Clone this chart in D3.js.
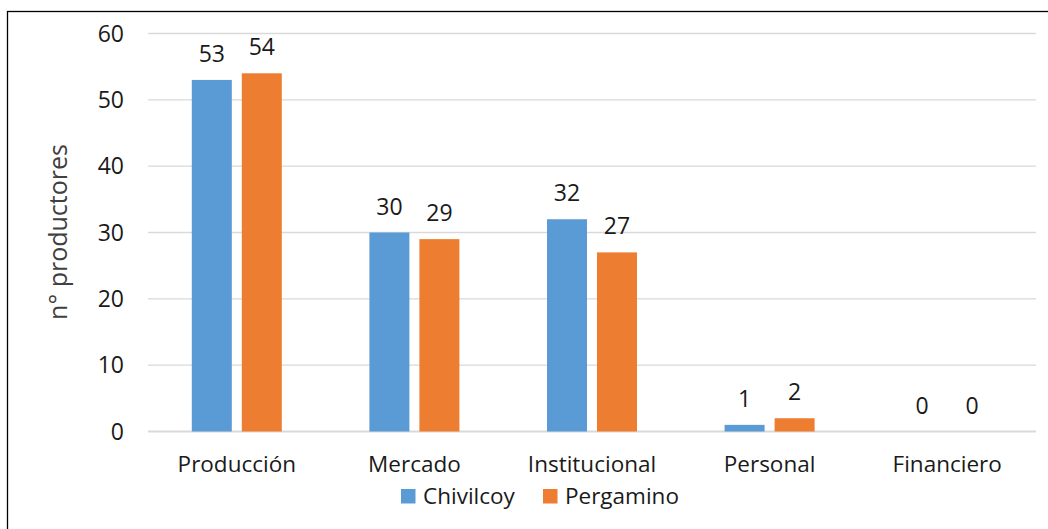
<!DOCTYPE html>
<html>
<head>
<meta charset="utf-8">
<script src="https://cdn.jsdelivr.net/npm/d3@7"></script>
<style>
  body { margin: 0; background: #fff; }
  svg { display: block; font-family: "Open Sans", sans-serif; }
</style>
</head>
<body>
<svg width="1048" height="529"></svg>
<script>
var categories = ["Producción", "Mercado", "Institucional", "Personal", "Financiero"];
var series = ["Chivilcoy", "Pergamino"];
var chivilcoy = [53, 30, 32, 1, 0];
var pergamino = [54, 29, 27, 2, 0];
var yTicks = [0, 10, 20, 30, 40, 50, 60];
var colors = ["#5B9BD5", "#ED7D31"];

var values = [chivilcoy, pergamino];
var svg = d3.select("svg");

// frame
svg.append("rect")
    .attr("x", 7.5).attr("y", 11.5)
    .attr("width", 1100).attr("height", 600)
    .attr("fill", "none")
    .attr("stroke", "#000")
    .attr("stroke-width", 1.3);

var x0 = d3.scaleBand().domain(categories).range([148, 1036]);
var x1 = d3.scaleBand().domain(series).range([0, x0.bandwidth()])
    .paddingInner(0.2).paddingOuter(0.876);
var y = d3.scaleLinear().domain([0, 60]).range([431.5, 33.5]);

// gridlines
svg.append("g").selectAll("line")
    .data(yTicks).enter()
    .append("line")
    .attr("x1", 148).attr("x2", 1036)
    .attr("y1", function(d) { return y(d); })
    .attr("y2", function(d) { return y(d); })
    .attr("stroke", "#D9D9D9")
    .attr("stroke-width", function(d) { return d === 0 ? 2 : 1.3; });

// y tick labels
svg.append("g").selectAll("text")
    .data(yTicks).enter()
    .append("text")
    .attr("x", 124)
    .attr("y", function(d) { return y(d); })
    .attr("dy", "0.36em")
    .attr("text-anchor", "end")
    .attr("font-size", 23)
    .attr("fill", "#1a1a1a")
    .text(function(d) { return d; });

// axis title
svg.append("text")
    .attr("transform", "translate(67,232) rotate(-90)")
    .attr("text-anchor", "middle")
    .attr("font-size", 25)
    .attr("fill", "#404040")
    .text("n° productores");

// bars + labels
series.forEach(function(s, i) {
    var g = svg.append("g");
    g.selectAll("rect")
        .data(categories).enter()
        .append("rect")
        .attr("x", function(c) { return x0(c) + x1(s); })
        .attr("width", x1.bandwidth())
        .attr("y", function(c, j) { return y(values[i][j]); })
        .attr("height", function(c, j) { return y(0) - y(values[i][j]); })
        .attr("fill", colors[i]);

    g.selectAll("text")
        .data(categories).enter()
        .append("text")
        .attr("x", function(c) { return x0(c) + x1(s) + x1.bandwidth() / 2; })
        .attr("y", function(c, j) { return y(values[i][j]) - 18; })
        .attr("text-anchor", "middle")
        .attr("font-size", 23)
        .attr("fill", "#1a1a1a")
        .text(function(c, j) { return values[i][j]; });
});

// category labels
svg.append("g").selectAll("text")
    .data(categories).enter()
    .append("text")
    .attr("x", function(c) { return x0(c) + x0.bandwidth() / 2; })
    .attr("y", 472)
    .attr("text-anchor", "middle")
    .attr("font-size", 22.5)
    .attr("fill", "#1a1a1a")
    .text(function(c) { return c; });

// legend
var legendX = [401, 543];
var legend = svg.append("g").selectAll("g")
    .data(series).enter()
    .append("g")
    .attr("transform", function(d, i) { return "translate(" + legendX[i] + ",489)"; });
legend.append("rect")
    .attr("width", 14.5).attr("height", 14.5)
    .attr("fill", function(d, i) { return colors[i]; });
legend.append("text")
    .attr("x", 22).attr("y", 15)
    .attr("font-size", 22.5)
    .attr("fill", "#1a1a1a")
    .text(function(d) { return d; });
</script>
</body>
</html>
